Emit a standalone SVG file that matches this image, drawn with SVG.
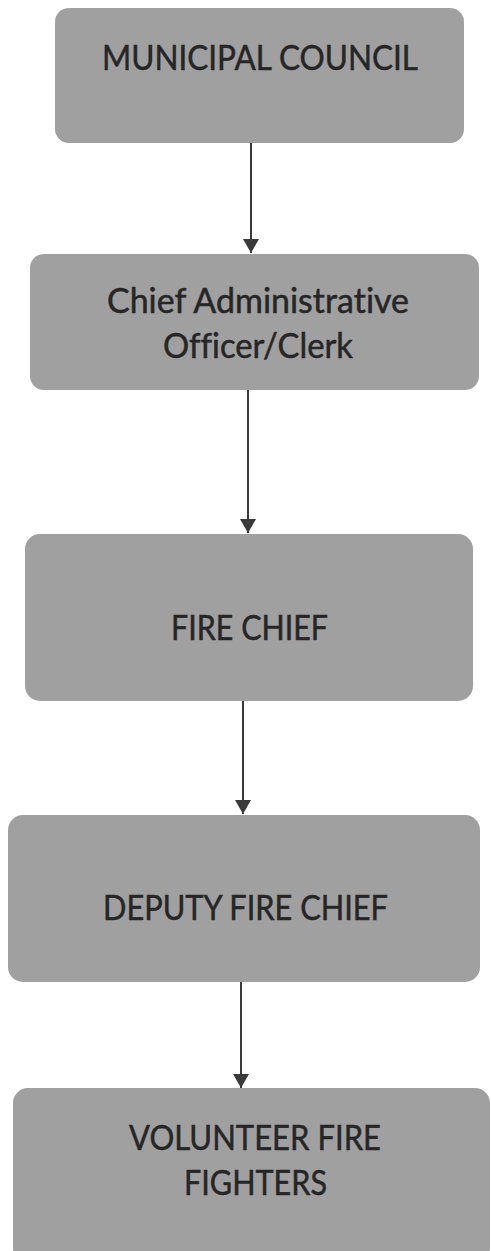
<svg xmlns="http://www.w3.org/2000/svg" width="491" height="1251" viewBox="0 0 491 1251">
<style>
.box{fill:#a0a0a0;}
.lbl{font-family:Lato,"Liberation Sans",sans-serif;font-size:34px;fill:#262626;text-anchor:middle;font-variant-ligatures:none;stroke:#262626;stroke-width:0.5;}
.conn{stroke:#3a3a3a;stroke-width:2;fill:none;}
</style>
<defs>
<marker id="ah" viewBox="0 0 14 16" refX="14" refY="8" markerWidth="14" markerHeight="16" markerUnits="userSpaceOnUse" orient="auto">
<path d="M0,0 L14,8 L0,16 Z" fill="#3a3a3a"/>
</marker>
</defs>
<rect width="491" height="1251" fill="#ffffff"/>
<g id="connectors">
<line class="conn" x1="251" y1="143" x2="251" y2="253" marker-end="url(#ah)"/>
<line class="conn" x1="248" y1="390" x2="248" y2="533" marker-end="url(#ah)"/>
<line class="conn" x1="243" y1="701" x2="243" y2="814" marker-end="url(#ah)"/>
<line class="conn" x1="241" y1="982" x2="241" y2="1088" marker-end="url(#ah)"/>
</g>
<g id="municipal-council">
<rect class="box" x="55" y="8" width="409" height="135" rx="14"/>
<text class="lbl" x="260" y="70" textLength="316" lengthAdjust="spacingAndGlyphs">MUNICIPAL COUNCIL</text>
</g>
<g id="cao-clerk">
<rect class="box" x="30" y="254" width="449" height="136" rx="14"/>
<text class="lbl" x="258" y="313" textLength="302" lengthAdjust="spacingAndGlyphs">Chief Administrative</text>
<text class="lbl" x="258" y="358" textLength="190" lengthAdjust="spacingAndGlyphs">Officer/Clerk</text>
</g>
<g id="fire-chief">
<rect class="box" x="25" y="534" width="448" height="167" rx="15"/>
<text class="lbl" x="249.5" y="640" textLength="157" lengthAdjust="spacingAndGlyphs">FIRE CHIEF</text>
</g>
<g id="deputy-fire-chief">
<rect class="box" x="8" y="815" width="472" height="167" rx="15"/>
<text class="lbl" x="245.5" y="920" textLength="285" lengthAdjust="spacingAndGlyphs">DEPUTY FIRE CHIEF</text>
</g>
<g id="volunteer-fire-fighters">
<rect class="box" x="13" y="1088" width="477" height="175" rx="15"/>
<text class="lbl" x="255" y="1150" textLength="252" lengthAdjust="spacingAndGlyphs">VOLUNTEER FIRE</text>
<text class="lbl" x="255.5" y="1195" textLength="143" lengthAdjust="spacingAndGlyphs">FIGHTERS</text>
</g>
</svg>
